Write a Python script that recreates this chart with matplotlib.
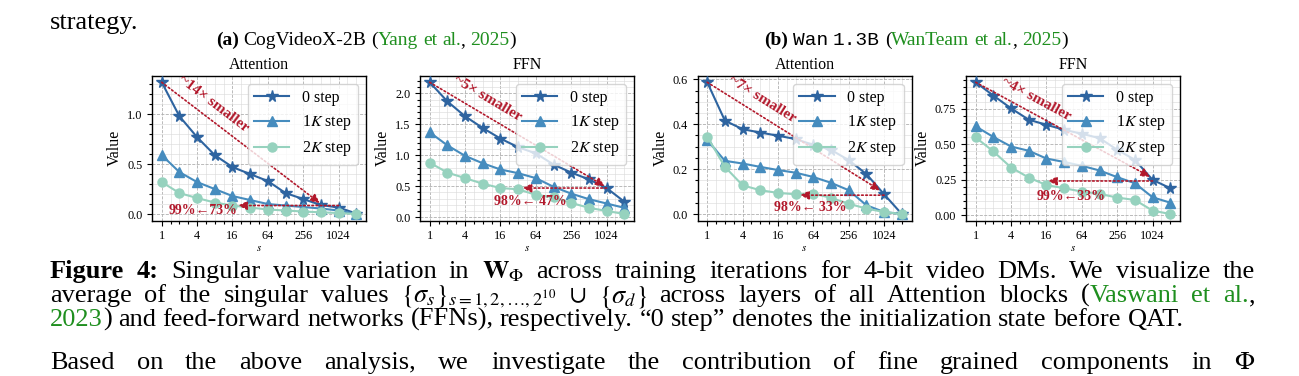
import matplotlib
matplotlib.use('Agg')
import matplotlib.pyplot as plt
from matplotlib.ticker import AutoMinorLocator, FixedLocator, NullFormatter
from matplotlib.transforms import IdentityTransform, offset_copy
import numpy as np

plt.rcParams['font.family'] = ['Liberation Serif', 'DejaVu Serif']
plt.rcParams['mathtext.fontset'] = 'stix'

W, H, DPI = 1299, 376, 100

# singular value index s (last point is sigma_d)
steps = [1, 2, 4, 8, 16, 32, 64, 128, 256, 512, 1024, 2048]
xticks = [1, 4, 16, 64, 256, 1024]
series_names = ['0 step', '1$K$ step', '2$K$ step']

cog_attn_0 = [1.32, 0.98, 0.77, 0.59, 0.47, 0.40, 0.33, 0.21, 0.15, 0.09, 0.065, 0.005]
cog_attn_1k = [0.59, 0.42, 0.32, 0.25, 0.18, 0.14, 0.10, 0.085, 0.07, 0.055, 0.035, 0.0]
cog_attn_2k = [0.32, 0.21, 0.16, 0.115, 0.085, 0.065, 0.045, 0.035, 0.025, 0.017, 0.01, 0.0]

cog_ffn_0 = [2.18, 1.87, 1.63, 1.44, 1.27, 1.13, 1.03, 0.85, 0.72, 0.61, 0.47, 0.25]
cog_ffn_1k = [1.37, 1.16, 0.99, 0.87, 0.77, 0.71, 0.63, 0.49, 0.38, 0.29, 0.22, 0.15]
cog_ffn_2k = [0.88, 0.72, 0.63, 0.54, 0.47, 0.45, 0.36, 0.32, 0.23, 0.15, 0.10, 0.05]

wan_attn_0 = [0.587, 0.416, 0.378, 0.363, 0.349, 0.334, 0.308, 0.286, 0.24, 0.178, 0.088, 0.0]
wan_attn_1k = [0.33, 0.237, 0.225, 0.21, 0.196, 0.184, 0.165, 0.139, 0.106, 0.039, 0.009, 0.0]
wan_attn_2k = [0.345, 0.21, 0.128, 0.106, 0.094, 0.088, 0.091, 0.072, 0.046, 0.024, 0.009, 0.0]

wan_ffn_0 = [0.936, 0.842, 0.752, 0.672, 0.636, 0.601, 0.573, 0.542, 0.46, 0.389, 0.248, 0.189]
wan_ffn_1k = [0.625, 0.55, 0.483, 0.453, 0.398, 0.374, 0.347, 0.314, 0.267, 0.224, 0.125, 0.087]
wan_ffn_2k = [0.547, 0.448, 0.335, 0.264, 0.211, 0.189, 0.165, 0.149, 0.123, 0.106, 0.031, 0.007]

# red annotations: ratio text, shrink arrow end, percent text, horizontal arrow
notes = [
    dict(ratio='~14× smaller', diag_end=(490, 0.11), ratio_at=(7.0, 1.08),
         pct='99%←73%', pct_at=(5.0, 0.04), h_arrow=(1024, 20, 0.085)),
    dict(ratio='~5× smaller', diag_end=(950, 0.50), ratio_at=(9.2, 1.88),
         pct='98%← 47%', pct_at=(52, 0.26), h_arrow=(1024, 38, 0.47)),
    dict(ratio='~7× smaller', diag_end=(880, 0.105), ratio_at=(8.0, 0.50),
         pct='98%← 33%', pct_at=(57, 0.031), h_arrow=(1024, 38, 0.084)),
    dict(ratio='~4× smaller', diag_end=(930, 0.27), ratio_at=(10.3, 0.80),
         pct='99%←33%', pct_at=(42, 0.13), h_arrow=(1024, 17, 0.24)),
]

panels = [
    ('Attention', [cog_attn_0, cog_attn_1k, cog_attn_2k], 152),
    ('FFN', [cog_ffn_0, cog_ffn_1k, cog_ffn_2k], 420),
    ('Attention', [wan_attn_0, wan_attn_1k, wan_attn_2k], 697.5),
    ('FFN', [wan_ffn_0, wan_ffn_1k, wan_ffn_2k], 966),
]

colors = ['#2e64a0', '#468cbe', '#96d2be']
markers = ['*', '^', 'o']
msizes = [8.5, 7, 6.5]
red = '#b2182b'
green = '#1f8f1f'

fig = plt.figure(figsize=(W / DPI, H / DPI), dpi=DPI)

ax_top, ax_bot, ax_w = 75.7, 220.6, 214

for (title, ys, left), note in zip(panels, notes):
    ax = fig.add_axes([left / W, 1 - ax_bot / H, ax_w / W, (ax_bot - ax_top) / H])
    for y, c, m, ms, name in zip(ys, colors, markers, msizes, series_names):
        ax.plot(steps, y, color=c, marker=m, ms=ms, lw=1.5, label=name, zorder=3)
    ax.set_xscale('log', base=2)
    ax.xaxis.set_major_locator(FixedLocator(xticks))
    ax.set_xticklabels([str(t) for t in xticks])
    ax.xaxis.set_minor_locator(FixedLocator([2 ** (k / 2) for k in range(0, 23) if k % 4]))
    ax.xaxis.set_minor_formatter(NullFormatter())
    ax.yaxis.set_minor_locator(AutoMinorLocator())
    ax.grid(True, which='major', ls='--', lw=0.6, color='#b0b0b0')
    ax.grid(True, which='minor', ls='-', lw=0.45, color='#dcdcdc')
    ax.set_axisbelow(True)
    ax.tick_params(which='both', direction='out', labelsize=8.8, width=0.8)
    ax.tick_params(which='major', length=3.5)
    ax.tick_params(which='minor', length=2)
    for sp in ax.spines.values():
        sp.set_linewidth(1.0)
    ax.set_title(title, fontsize=11.5, pad=5)
    ax.set_ylabel('Value', fontsize=11.5, labelpad=3)
    ax.set_xlabel('$s$', fontsize=8, labelpad=1)
    ax.legend(loc='upper right', fontsize=11.5, handlelength=2.2, borderpad=0.4,
              labelspacing=0.45, borderaxespad=0.5, framealpha=0.8)

    ax.get_xlim()
    ax.get_ylim()
    x0, y0 = steps[0], ys[0][0]
    arrow = dict(arrowstyle='-|>', color=red, lw=1.2, ls=(0, (1, 1.5)),
                 mutation_scale=13, shrinkA=0, shrinkB=0)
    ax.annotate('', xy=note['diag_end'], xytext=(x0, y0), arrowprops=arrow, zorder=5)
    p0 = ax.transData.transform((x0, y0))
    p1 = ax.transData.transform(note['diag_end'])
    ang = np.degrees(np.arctan2(p1[1] - p0[1], p1[0] - p0[0]))
    nx, ny = -np.sin(np.radians(ang)) * 3, np.cos(np.radians(ang)) * 3
    tr = offset_copy(ax.transData, fig=fig, x=nx, y=ny, units='dots')
    ax.text(*note['ratio_at'], note['ratio'], color=red, fontsize=11, fontweight='bold',
            rotation=ang, rotation_mode='anchor', ha='center', va='center', zorder=6,
            transform=tr)
    hx0, hx1, hy = note['h_arrow']
    ax.annotate('', xy=(hx1, hy), xytext=(hx0, hy), arrowprops=arrow, zorder=5)
    ax.text(*note['pct_at'], note['pct'], color=red, fontsize=10, fontweight='bold',
            ha='center', va='center', zorder=6)


# ---- surrounding paper text, placed in pixels from the top-left corner ----
renderer = fig.canvas.get_renderer()


def put(tokens, x, y, size, how='left', right=None):
    items = []
    for tok in tokens:
        if isinstance(tok, str):
            tok = [(tok, {})]
        parts = [fig.text(0, 0, s, fontsize=size, va='baseline',
                          transform=IdentityTransform(), **kw) for s, kw in tok]
        items.append(parts)
    widths = [[t.get_window_extent(renderer).width for t in parts] for parts in items]
    tw = [sum(w) for w in widths]
    space = 0.25 * size * DPI / 72
    if how == 'justify':
        space = (right - x - sum(tw)) / (len(items) - 1)
    total = sum(tw) + space * (len(items) - 1)
    if how == 'center':
        x = x - total / 2
    cx = x
    for parts, ws in zip(items, widths):
        for t, w in zip(parts, ws):
            t.set_position((cx, H - y))
            cx += w
        cx += space


B = {'fontweight': 'bold'}
G = {'color': green}
MONO = {'family': ['Liberation Mono', 'DejaVu Sans Mono']}
cap = 19
margin_l, margin_r = 50, 1255

put(['strategy.'], margin_l, 29, cap)

put([[('(a)', B)], 'CogVideoX-2B', [('(', {}), ('Yang', G)], [('et', G)], [('al.', G), (',', {})],
     [('2025', G), (')', {})]], 366, 45, 14, how='center')
put([[('(b)', B)], [('Wan', MONO)], [('1.3B', MONO)], [('(', {}), ('WanTeam', G)], [('et', G)],
     [('al.', G), (',', {})], [('2025', G), (')', {})]], 916, 45, 14, how='center')

line1 = [[('Figure', B)], [('4:', B)], 'Singular', 'value', 'variation', 'in', r'$\mathbf{W}_{\Phi}$',
         'across', 'training', 'iterations', 'for', '4-bit', 'video', 'DMs.', 'We', 'visualize', 'the']
line2 = ['average', 'of', 'the', 'singular', 'values', r'$\{\sigma_s\}_{s=1,2,\ldots,2^{10}}$',
         r'$\cup$', r'$\{\sigma_d\}$', 'across', 'layers', 'of', 'all', 'Attention', 'blocks',
         [('(', {}), ('Vaswani', G)], [('et', G)], [('al.', G), (',', {})]]
line3 = [[('2023', G), (')', {})], 'and', 'feed-forward', 'networks', '(FFNs),', 'respectively.',
         '“0', 'step”', 'denotes', 'the', 'initialization', 'state', 'before', 'QAT.']
line4 = ['Based', 'on', 'the', 'above', 'analysis,', 'we', 'investigate', 'the', 'contribution',
         'of', 'fine', 'grained', 'components', 'in', r'$\Phi$']

put(line1, margin_l, 278, cap, how='justify', right=margin_r)
put(line2, margin_l, 302, cap, how='justify', right=margin_r)
put(line3, margin_l, 326, cap)
put(line4, margin_l, 369, cap, how='justify', right=margin_r)

fig.savefig('out.png', dpi=DPI)
